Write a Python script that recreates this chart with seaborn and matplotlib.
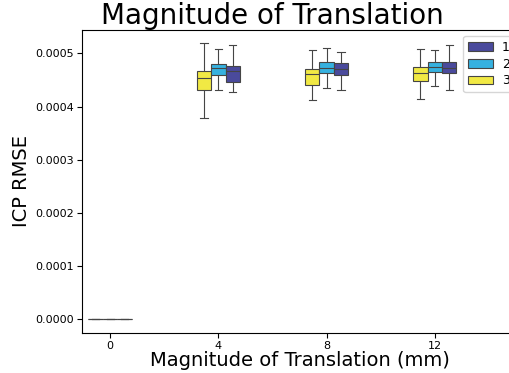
import numpy as np
import pandas as pd
import matplotlib
matplotlib.use("Agg")
import matplotlib.pyplot as plt
import seaborn as sns

# Translation magnitudes (mm) and the three trial groups
magnitudes = [0, 4, 8, 12]
groups = ["1", "2", "3"]

# ICP RMSE samples per magnitude: min, Q1, median, Q3, max
rmse_g1 = {
    0: [0.0, 0.0, 0.0, 0.0, 0.0],
    4: [0.000427, 0.000447, 0.000466, 0.000476, 0.000516],
    8: [0.000432, 0.000460, 0.000471, 0.000481, 0.000503],
    12: [0.000431, 0.000464, 0.000473, 0.000484, 0.000516],
}
rmse_g2 = {
    0: [0.0, 0.0, 0.0, 0.0, 0.0],
    4: [0.000432, 0.000460, 0.000472, 0.000480, 0.000508],
    8: [0.000434, 0.000463, 0.000473, 0.000483, 0.000511],
    12: [0.000439, 0.000465, 0.000474, 0.000483, 0.000506],
}
rmse_g3 = {
    0: [0.0, 0.0, 0.0, 0.0, 0.0],
    4: [0.000379, 0.000432, 0.000454, 0.000467, 0.000519],
    8: [0.000413, 0.000440, 0.000462, 0.000471, 0.000506],
    12: [0.000414, 0.000448, 0.000464, 0.000474, 0.000508],
}
group_colors = {"1": "#4a4a9c", "2": "#36b1e0", "3": "#f1e944"}

rows = []
for g, table in zip(groups, [rmse_g1, rmse_g2, rmse_g3]):
    for m in magnitudes:
        for v in table[m]:
            rows.append({"Magnitude": m, "Group": g, "RMSE": v})
df = pd.DataFrame(rows)

W, H = 509, 373
left, right, top, bottom = 82, 517, 29.5, 333
fig = plt.figure(figsize=(W / 100, H / 100), dpi=100)
ax = fig.add_axes([left / W, 1 - bottom / H, (right - left) / W, (bottom - top) / H])

sns.boxplot(
    data=df, x="Magnitude", y="RMSE", hue="Group",
    order=magnitudes, hue_order=["3", "2", "1"],
    palette=group_colors, saturation=1, width=0.4, whis=(0, 100),
    linewidth=0.8, ax=ax,
)

ax.set_xlim(-0.26, 3.76)
ax.set_title("Magnitude of Translation", fontsize=20,
             x=(272 - left) / (right - left), pad=-0.5)
ax.set_xlabel("Magnitude of Translation (mm)", fontsize=14, labelpad=0.5)
ax.set_ylabel("ICP RMSE", fontsize=14, labelpad=3)
ax.tick_params(labelsize=8, pad=2)

handles, labels = ax.get_legend_handles_labels()
ax.legend(handles[::-1], labels[::-1], loc="upper right", fontsize=9,
          labelspacing=0.3, handletextpad=0.7, bbox_to_anchor=(1.009, 1.0))

fig.savefig("out.png", dpi=100)
